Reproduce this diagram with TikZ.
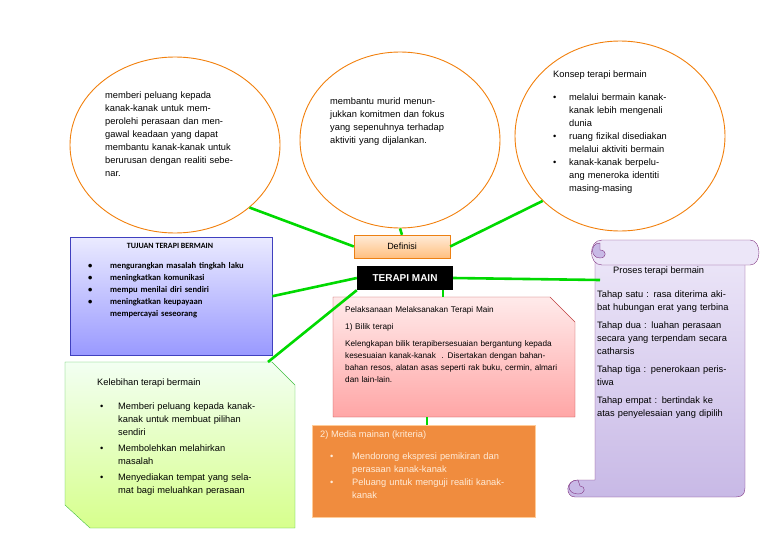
\documentclass[tikz,border=0pt]{standalone}
\usepackage{fontspec}
\setmainfont{Liberation Sans}
\newfontfamily\calfont{Carlito}
\usetikzlibrary{shapes.geometric}
\definecolor{mdor}{RGB}{240,140,62}
\definecolor{scl}{RGB}{236,230,248}
\definecolor{scd}{RGB}{200,185,230}
\begin{document}
\begin{tikzpicture}[x=1pt,y=-1pt,
  ell/.style={draw=orange!80!brown,line width=0.9pt,fill=white},
  con/.style={draw=green!85!black,line width=2.6pt},
  txt/.style={font=\fontsize{9.3}{13}\selectfont,align=left,anchor=north west,inner sep=0}]
\useasboundingbox (0,0) rectangle (768,543);
% ellipses
\node[ell,ellipse,minimum width=210,minimum height=176] (e1) at (175,145) {};
\node[ell,ellipse,minimum width=200,minimum height=176] (e2) at (400,140) {};
\node[ell,ellipse,minimum width=210,minimum height=190] (e3) at (620,136) {};
\node[txt,text width=128] (t1) at (105,92) {memberi peluang kepada kanak-kanak untuk memperolehi perasaan dan mengawal keadaan yang dapat membantu kanak-kanak untuk berurusan dengan realiti sebenar.};
\node[txt,text width=128] (t2) at (330,98) {membantu murid menunjukkan komitmen dan fokus yang sepenuhnya terhadap aktiviti yang dijalankan.};
\node[txt] (t3h) at (553,71) {Konsep terapi bermain};
\node[txt,text width=122] (t3) at (553,94) {%
\hangindent=16pt\makebox[16pt][l]{\textbullet}melalui bermain kanak-kanak lebih mengenali dunia\par
\hangindent=16pt\makebox[16pt][l]{\textbullet}ruang fizikal disediakan melalui aktiviti bermain\par
\hangindent=16pt\makebox[16pt][l]{\textbullet}kanak-kanak berpeluang meneroka identiti masing-masing\par};
% central
\node[draw=orange!70!brown,top color=orange!15,bottom color=orange!50,minimum width=96,minimum height=23,font=\fontsize{9}{11}\selectfont,inner sep=0] (def) at (402,246.5) {Definisi};
\node[fill=black,text=white,minimum width=96,minimum height=24,font=\bfseries\fontsize{10}{12}\selectfont,inner sep=0] (tm) at (405,278) {TERAPI MAIN};
% tujuan
\node[draw=blue!50!gray,top color=blue!8,bottom color=blue!40,minimum width=202,minimum height=118,anchor=north west] (tj) at (70,237) {};
\node[font=\calfont\bfseries\fontsize{8}{9}\selectfont] (tjh) at (170,246) {TUJUAN TERAPI BERMAIN};
\node[txt,font=\calfont\bfseries\fontsize{8.6}{12}\selectfont,text width=190] (tjt) at (88,262) {%
\makebox[22pt][l]{\textbullet}mengurangkan masalah tingkah laku\\
\makebox[22pt][l]{\textbullet}meningkatkan komunikasi\\
\makebox[22pt][l]{\textbullet}mempu menilai diri sendiri\\
\makebox[22pt][l]{\textbullet}meningkatkan keupayaan\\
\hspace*{22pt}mempercayai seseorang};
% kelebihan
\path[draw=green!50!gray,top color=green!5,bottom color=green!35!yellow!45] (65,362) -- (272,362) -- (295,385) -- (295,528) -- (90,528) -- (65,505) -- cycle;
\node[txt] (klh) at (97,379) {Kelebihan terapi bermain};
\node[txt,text width=160] (klt) at (100,403) {%
\hangindent=18pt\makebox[18pt][l]{\textbullet}Memberi peluang kepada kanak-kanak untuk membuat pilihan sendiri\par\vspace{3pt}
\hangindent=18pt\makebox[18pt][l]{\textbullet}Membolehkan melahirkan masalah\par\vspace{3pt}
\hangindent=18pt\makebox[18pt][l]{\textbullet}Menyediakan tempat yang selamat bagi meluahkan perasaan\par};
\coordinate (kl) at (268,362);
% pelaksanaan
\path[draw=red!50!gray,top color=red!8,bottom color=red!35] (333,297) -- (550,297) -- (575,322) -- (575,417) -- (333,417) -- cycle;
\node[txt,font=\fontsize{8.2}{12}\selectfont,text width=215] (pl) at (345,306) {Pelaksanaan Melaksanakan Terapi Main\par\vspace{5pt}
1) Bilik terapi\par\vspace{5pt}
Kelengkapan bilik terapibersesuaian bergantung kepada kesesuaian kanak-kanak~~. Disertakan dengan bahan-bahan resos, alatan asas seperti rak buku, cermin, almari dan lain-lain.};
\coordinate (plt) at (443,297);
\coordinate (plb) at (427,417);
% media
\node[fill=mdor,draw=orange!40,minimum width=223,minimum height=92,anchor=north west] (md) at (312,425) {};
\node[txt,text=white!85!orange] (mdh) at (320,431) {2) Media mainan (kriteria)};
\node[txt,text=white!85!orange,text width=180] (mdt) at (330,453) {%
\hangindent=22pt\makebox[22pt][l]{\textbullet}Mendorong ekspresi pemikiran dan perasaan kanak-kanak\par
\hangindent=22pt\makebox[22pt][l]{\textbullet}Peluang untuk menguji realiti kanak-kanak\par};
% scroll
\path[draw=violet!60!gray,top color=scl,bottom color=scd] (595,252) -- (745,252) -- (745,488) .. controls (745,494) and (742,497) .. (736,497) -- (575,497) .. controls (565,497) and (565,480) .. (578,480) -- (595,480) -- cycle;
\path[draw=violet!60!gray,fill=scl] (602,240) -- (750,240) .. controls (762,240) and (762,265) .. (750,265) -- (602,265) .. controls (588,265) and (588,240) .. (602,240) -- cycle;
\path[draw=violet!60!gray,fill=scd] (600,243) .. controls (590,243) and (590,258) .. (600,258) .. controls (607,258) and (607,250) .. (600,250) -- cycle;
\path[draw=violet!60!gray,fill=scd] (578,480) .. controls (566,480) and (566,494) .. (578,494) .. controls (586,494) and (586,486) .. (580,486) -- cycle;
\coordinate (sc) at (600,280);
\node[txt] (sch) at (613,267) {Proses terapi bermain};
\node[txt,text width=132] (sct) at (597,291) {Tahap satu : rasa diterima akibat hubungan erat yang terbina\par\vspace{5pt}
Tahap dua : luahan perasaan secara yang terpendam secara catharsis\par\vspace{5pt}
Tahap tiga : penerokaan peristiwa\par\vspace{5pt}
Tahap empat : bertindak ke atas penyelesaian yang dipilih};
% connectors
\draw[con] (e1.-40) -- (def.west);
\draw[con] (e2.south) -- (def.north);
\draw[con] (e3.-140) -- (def.east);
\draw[con] (tj.east) -- (tm.west);
\draw[con] (kl) -- (tm.south west);
\draw[con] (tm.east) -- (sc);
\draw[con] (tm.south -| plt) -- (plt);
\draw[con] (plb) -- (plb |- md.north);
\end{tikzpicture}
\end{document}
